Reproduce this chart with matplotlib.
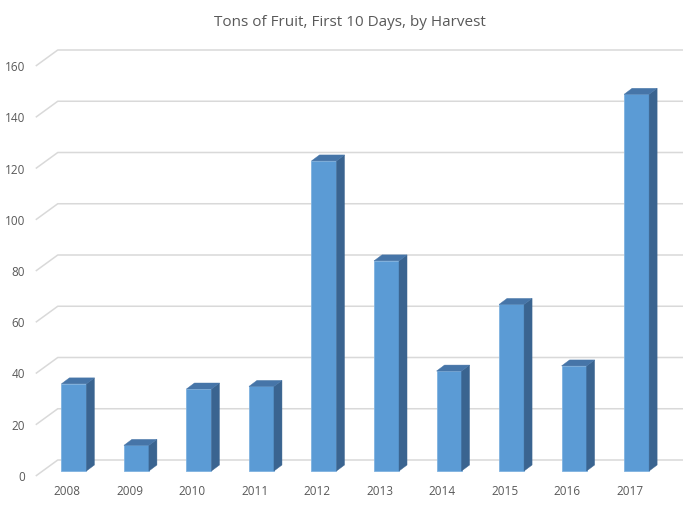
import matplotlib
matplotlib.use("Agg")
import matplotlib.pyplot as plt
from matplotlib.patches import Polygon

years = ["2008", "2009", "2010", "2011", "2012", "2013", "2014", "2015", "2016", "2017"]
tons = [34, 10, 32, 33, 121, 82, 39, 65, 41, 147]
yticks = [0, 20, 40, 60, 80, 100, 120, 140, 160]
title = "Tons of Fruit, First 10 Days, by Harvest"

W, H = 700, 507
fig = plt.figure(figsize=(W / 100, H / 100), dpi=100)
fig.patch.set_facecolor("white")

# pixel geometry of the 3D-like plot
x_front0, y_zero, x_back_end, y_top = 35.75, 476, 683, 50
ax = fig.add_axes([x_front0 / W, (H - y_zero) / H,
                   (x_back_end - x_front0) / W, (y_zero - y_top) / H])

cat_px = 62.5
val_px = (476 - 66) / 160.0
D = 22 / cat_px          # depth offset in category units
E = 16 / val_px          # depth offset in value units
ax.set_xlim(-0.5, len(years) - 0.5 + D)
ax.set_ylim(0, yticks[-1] + E)

grid_c = "#D9D9D9"
for v in yticks:
    ax.plot([-0.5, -0.5 + D, len(years) - 0.5 + D], [v, v + E, v + E],
            color=grid_c, lw=1.1, zorder=1, clip_on=False, solid_capstyle="butt")

f = 5 / 16.0             # fraction of depth where bar fronts sit
bw = 25 / cat_px
bdx = 8 / cat_px
bdy = 6 / val_px
front_c = "#5B9BD5"
top_c = "#4675A8"
side_c = "#3A6490"
for i, t in enumerate(tons):
    x0 = i + f * D - bw / 2
    y0 = f * E
    ax.add_patch(Polygon([(x0, y0), (x0 + bw, y0), (x0 + bw, y0 + t), (x0, y0 + t)],
                         closed=True, facecolor=front_c, edgecolor="#7FB2E0",
                         lw=0.6, zorder=3))
    ax.add_patch(Polygon([(x0 + bw, y0), (x0 + bw + bdx, y0 + bdy),
                          (x0 + bw + bdx, y0 + t + bdy), (x0 + bw, y0 + t)],
                         closed=True, facecolor=side_c, edgecolor=side_c, lw=0.3, zorder=3))
    ax.add_patch(Polygon([(x0, y0 + t), (x0 + bw, y0 + t),
                          (x0 + bw + bdx, y0 + t + bdy), (x0 + bdx, y0 + t + bdy)],
                         closed=True, facecolor=top_c, edgecolor=top_c, lw=0.3, zorder=3))

ax.set_yticks(yticks)
ax.set_yticklabels([str(v) for v in yticks])
ax.set_xticks(range(len(years)))
ax.set_xticklabels(years)
ax.tick_params(axis="y", length=0, pad=7.5, labelsize=8.5, labelcolor="#595959")
ax.tick_params(axis="x", length=0, pad=6.5, labelsize=8.5, labelcolor="#595959")
for lab in ax.get_xticklabels() + ax.get_yticklabels():
    lab.set_fontfamily(["Open Sans", "DejaVu Sans"])
for s in ax.spines.values():
    s.set_visible(False)
ax.set_facecolor("none")

fig.text(0.5, 1 - 22 / H, title, ha="center", va="center", fontsize=11,
         color="#595959", family=["Open Sans", "DejaVu Sans"])

fig.savefig("out.png", dpi=100, facecolor="white")
